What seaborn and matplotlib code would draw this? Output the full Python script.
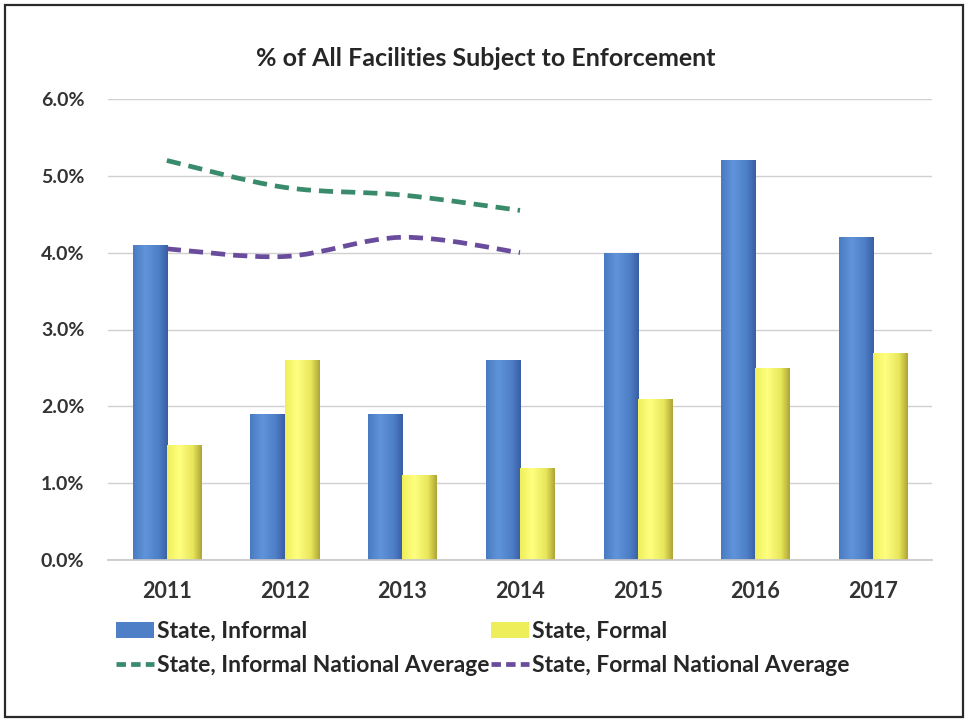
import numpy as np
import pandas as pd
import matplotlib
matplotlib.use("Agg")
import matplotlib.pyplot as plt
import seaborn as sns
from matplotlib.path import Path
from matplotlib.patches import PathPatch, Patch, Rectangle
from matplotlib.lines import Line2D
from matplotlib.colors import LinearSegmentedColormap
from matplotlib.ticker import FuncFormatter

# ---- data (percent of all facilities) ----
years = ["2011", "2012", "2013", "2014", "2015", "2016", "2017"]
state_informal = [4.1, 1.9, 1.9, 2.6, 4.0, 5.2, 4.2]
state_formal = [1.5, 2.6, 1.1, 1.2, 2.1, 2.5, 2.7]
avg_years = ["2011", "2012", "2013", "2014"]
informal_national_avg = [5.2, 4.85, 4.75, 4.55]
formal_national_avg = [4.05, 3.95, 4.2, 4.0]

series_names = ["State, Informal", "State, Formal",
                "State, Informal National Average", "State, Formal National Average"]

df = pd.DataFrame({
    "year": years * 2,
    "value": state_informal + state_formal,
    "series": [series_names[0]] * len(years) + [series_names[1]] * len(years),
})

sns.set_theme(style="white")
plt.rcParams["font.family"] = ["Lato", "DejaVu Sans"]
plt.rcParams["font.weight"] = "bold"

W, H = 968, 722
fig = plt.figure(figsize=(W / 100, H / 100), dpi=100)
fig.patch.set_facecolor("white")
ax = fig.add_axes([108 / W, 1 - 560 / H, (932 - 108) / W, (560 - 99) / H])

blue, yellow = "#4f7fc6", "#eeee5a"
green, purple = "#3a8a6c", "#6a4c9c"

sns.barplot(data=df, x="year", y="value", hue="series", order=years,
            hue_order=series_names[:2], palette=[blue, yellow],
            width=0.58, gap=0, saturation=1, legend=False, ax=ax)

# shaded (cylinder-like) fill for each bar
blue_cmap = LinearSegmentedColormap.from_list(
    "b", [(0, "#4a7bc2"), (0.35, "#6094da"), (0.75, "#4d7ec6"), (1, "#3a5ea4")])
yellow_cmap = LinearSegmentedColormap.from_list(
    "y", [(0, "#efef5c"), (0.35, "#ffff80"), (0.75, "#e8e65a"), (1, "#aea536")])
grad = np.linspace(0, 1, 64).reshape(1, -1)
n = len(years)
for i, bar in enumerate(list(ax.patches)):
    cmap = blue_cmap if i < n else yellow_cmap
    x0, y0 = bar.get_x(), bar.get_y()
    w, h = bar.get_width(), bar.get_height()
    im = ax.imshow(grad, cmap=cmap, aspect="auto", interpolation="bilinear",
                   extent=(x0, x0 + w, y0, y0 + h), zorder=2)
    im.set_clip_path(bar)
    bar.set_facecolor("none")
    bar.set_edgecolor("none")


def smooth_path(xs, ys, tension=1 / 6):
    """Cubic Bezier path through the points (Catmull-Rom style)."""
    pts = np.column_stack([xs, ys]).astype(float)
    verts = [pts[0]]
    codes = [Path.MOVETO]
    for k in range(len(pts) - 1):
        p0 = pts[k - 1] if k > 0 else pts[k]
        p1, p2 = pts[k], pts[k + 1]
        p3 = pts[k + 2] if k + 2 < len(pts) else pts[k + 1]
        c1 = p1 + (p2 - p0) * tension
        c2 = p2 - (p3 - p1) * tension
        verts += [c1, c2, p2]
        codes += [Path.CURVE4] * 3
    return Path(verts, codes)


xpos = [years.index(y) for y in avg_years]
dash = (0, (3.0, 1.7))
for vals, col in [(informal_national_avg, green), (formal_national_avg, purple)]:
    pp = PathPatch(smooth_path(xpos, vals), facecolor="none", edgecolor=col,
                   lw=3.4, linestyle=dash, capstyle="butt", zorder=4)
    ax.add_patch(pp)

ax.set_ylim(0, 6)
ax.set_xlim(-0.5, n - 0.5)
ax.set_yticks(np.arange(0, 7, 1))
ax.yaxis.set_major_formatter(FuncFormatter(lambda v, p: f"{v:.1f}%"))
ax.grid(axis="y", color="#d0d0d0", lw=1)
ax.set_axisbelow(True)
for s in ["left", "right", "top"]:
    ax.spines[s].set_visible(False)
ax.spines["bottom"].set_color("#c8c8c8")
ax.tick_params(axis="y", length=0, pad=17, labelsize=14, labelcolor="#333333")
ax.tick_params(axis="x", length=0, pad=15, labelsize=15.5, labelcolor="#333333")
for t in ax.get_xticklabels() + ax.get_yticklabels():
    t.set_fontweight("bold")
ax.set_xlabel("")
ax.set_ylabel("")

fig.text(0.502, 1 - 58 / H, "% of All Facilities Subject to Enforcement",
         ha="center", va="center", fontsize=18, fontweight="bold", color="#262626")

handles = [
    Patch(facecolor=blue, edgecolor="none"),
    Line2D([], [], color=green, lw=3.4, linestyle=(0, (2.0, 1.1))),
    Patch(facecolor=yellow, edgecolor="none"),
    Line2D([], [], color=purple, lw=3.4, linestyle=(0, (2.0, 1.1))),
]
labels = [series_names[0], series_names[2], series_names[1], series_names[3]]
fig.legend(handles, labels, ncol=2, loc="upper left",
           bbox_to_anchor=(116 / W, 1 - 621 / H), frameon=False,
           prop={"size": 16.5, "weight": "bold"}, labelcolor="#262626",
           handlelength=1.65, handletextpad=0.12, columnspacing=0.1,
           labelspacing=0.58, borderaxespad=0, borderpad=0)

# outer frame
fig.add_artist(Rectangle((5 / W, 5 / H), (963 - 5) / W, (717 - 5) / H,
                         transform=fig.transFigure, fill=False,
                         edgecolor="#2a2a2a", lw=1.6))

fig.savefig("out.png", dpi=100, facecolor="white")
